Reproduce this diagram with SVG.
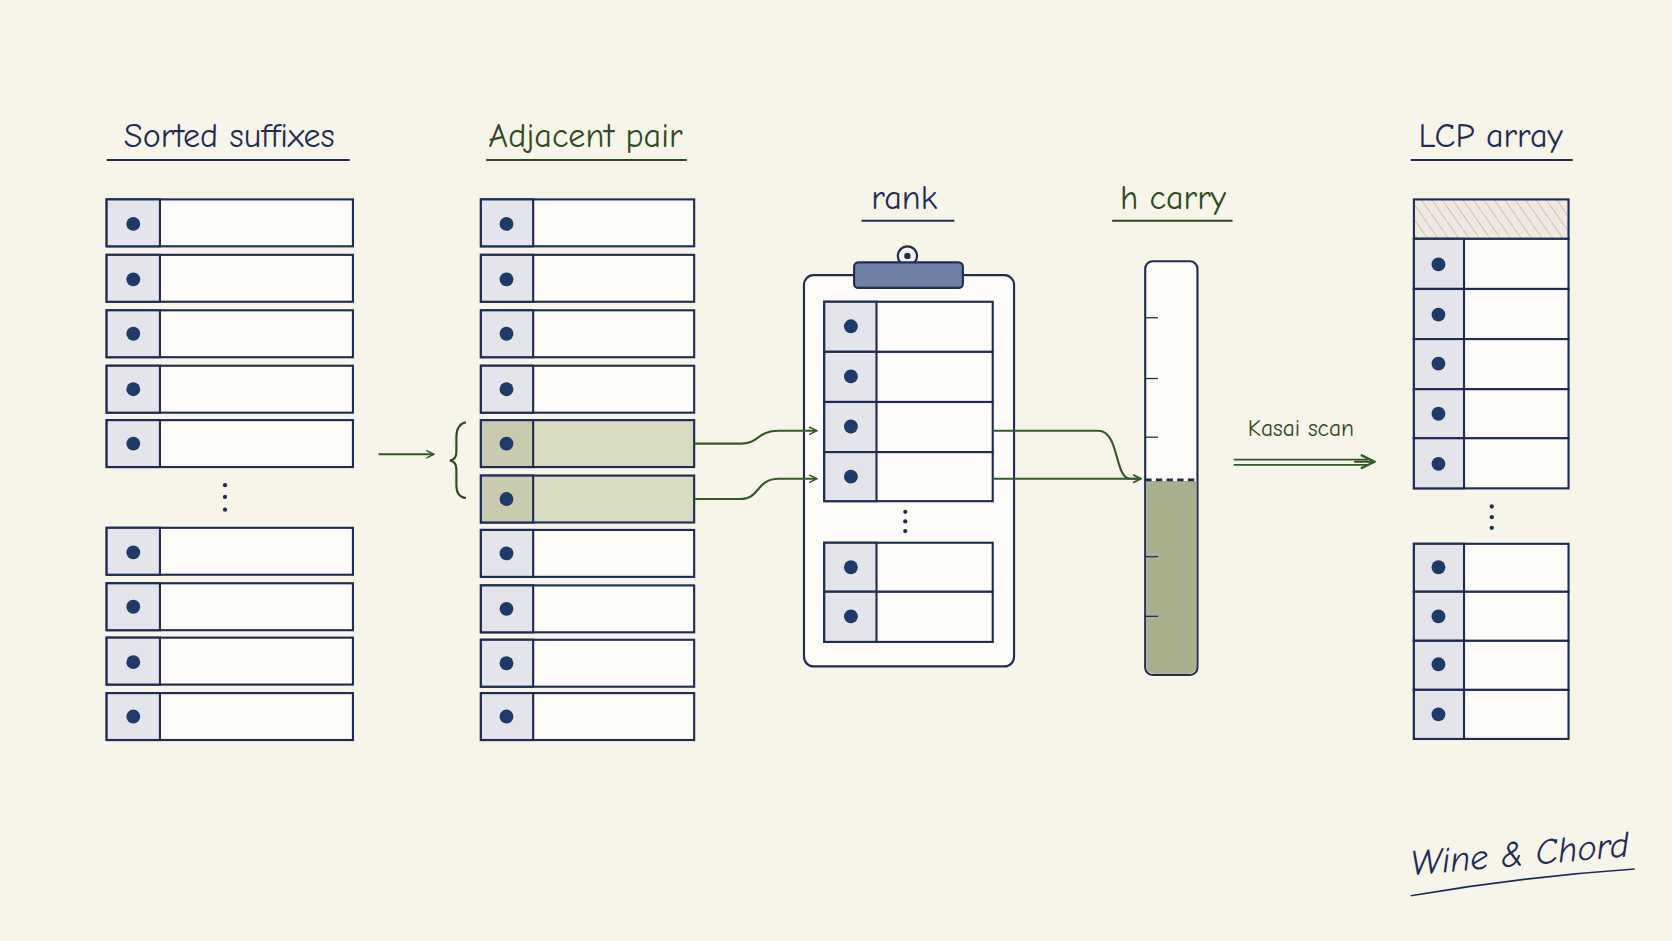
<svg xmlns="http://www.w3.org/2000/svg" width="1672" height="941" viewBox="0 0 1672 941">
<defs>
<style>
.row{fill:#fdfcf8;stroke:#1f2d55;stroke-width:2}
.cell{fill:#e3e5ea;stroke:#1f2d55;stroke-width:2}
.hl{fill:#d9dac2;stroke:#1f2d55;stroke-width:2}
.dot{fill:#1f3a68}
.t{font-family:"Comic Neue","DejaVu Sans",sans-serif;font-size:32px;text-anchor:middle}
.nv{fill:#1f2d55}.gr{fill:#2f4a1f}
.ul{stroke-width:2;fill:none}
.con{stroke:#355a2a;stroke-width:2;fill:none;marker-end:url(#ah)}
</style>
<marker id="ah" viewBox="0 0 10 10" refX="9" refY="5" markerWidth="9" markerHeight="9" orient="auto" markerUnits="userSpaceOnUse"><path d="M1 1L9 5L1 9" fill="none" stroke="#355a2a" stroke-width="1.6"/></marker>
<marker id="ah2" viewBox="0 0 10 10" refX="9" refY="5" markerWidth="16" markerHeight="16" orient="auto" markerUnits="userSpaceOnUse"><path d="M1 1L9 5L1 9" fill="none" stroke="#355a2a" stroke-width="1.4"/></marker>
<pattern id="hatch" width="8" height="8" patternUnits="userSpaceOnUse" patternTransform="rotate(-35)"><rect width="8" height="8" fill="#efe9e2"/><line x1="0" y1="0" x2="0" y2="8" stroke="#c9b9b0" stroke-width="1.5"/></pattern>
</defs>
<rect width="1672" height="941" fill="#f7f4ea"/>
<g transform="scale(1.0663)">
<g id="title-sorted"><text class="t nv" x="215" y="138">Sorted suffixes</text><line class="ul" stroke="#1f2d55" x1="100" y1="150" x2="328" y2="150"/></g>
<g id="title-pair"><text class="t gr" x="549" y="138">Adjacent pair</text><line class="ul" stroke="#2f4a1f" x1="456" y1="150" x2="644" y2="150"/></g>
<g id="title-rank"><text class="t nv" x="848" y="196">rank</text><line class="ul" stroke="#1f2d55" x1="808" y1="207" x2="895" y2="207"/></g>
<g id="title-h"><text class="t gr" x="1100" y="196">h carry</text><line class="ul" stroke="#2f4a1f" x1="1043" y1="207" x2="1156" y2="207"/></g>
<g id="title-lcp"><text class="t nv" x="1398" y="138">LCP array</text><line class="ul" stroke="#1f2d55" x1="1323" y1="150" x2="1475" y2="150"/></g>

<g id="sorted">
<rect class="row" x="100" y="187" width="231" height="44"/><rect class="cell" x="100" y="187" width="50" height="44"/><circle class="dot" cx="125" cy="210" r="6.5"/>
<rect class="row" x="100" y="239" width="231" height="44"/><rect class="cell" x="100" y="239" width="50" height="44"/><circle class="dot" cx="125" cy="262" r="6.5"/>
<rect class="row" x="100" y="291" width="231" height="44"/><rect class="cell" x="100" y="291" width="50" height="44"/><circle class="dot" cx="125" cy="313" r="6.5"/>
<rect class="row" x="100" y="343" width="231" height="44"/><rect class="cell" x="100" y="343" width="50" height="44"/><circle class="dot" cx="125" cy="365" r="6.5"/>
<rect class="row" x="100" y="394" width="231" height="44"/><rect class="cell" x="100" y="394" width="50" height="44"/><circle class="dot" cx="125" cy="416" r="6.5"/>
<rect class="row" x="100" y="495" width="231" height="44"/><rect class="cell" x="100" y="495" width="50" height="44"/><circle class="dot" cx="125" cy="518" r="6.5"/>
<rect class="row" x="100" y="547" width="231" height="44"/><rect class="cell" x="100" y="547" width="50" height="44"/><circle class="dot" cx="125" cy="569" r="6.5"/>
<rect class="row" x="100" y="598" width="231" height="44"/><rect class="cell" x="100" y="598" width="50" height="44"/><circle class="dot" cx="125" cy="621" r="6.5"/>
<rect class="row" x="100" y="650" width="231" height="44"/><rect class="cell" x="100" y="650" width="50" height="44"/><circle class="dot" cx="125" cy="672" r="6.5"/>
<circle class="nv" cx="211" cy="455" r="2"/><circle class="nv" cx="211" cy="466" r="2"/><circle class="nv" cx="211" cy="478" r="2"/>
</g>

<g id="pair">
<rect class="row" x="451" y="187" width="200" height="44"/><rect class="cell" x="451" y="187" width="49" height="44"/><circle class="dot" cx="475" cy="210" r="6.5"/>
<rect class="row" x="451" y="239" width="200" height="44"/><rect class="cell" x="451" y="239" width="49" height="44"/><circle class="dot" cx="475" cy="262" r="6.5"/>
<rect class="row" x="451" y="291" width="200" height="44"/><rect class="cell" x="451" y="291" width="49" height="44"/><circle class="dot" cx="475" cy="313" r="6.5"/>
<rect class="row" x="451" y="343" width="200" height="44"/><rect class="cell" x="451" y="343" width="49" height="44"/><circle class="dot" cx="475" cy="365" r="6.5"/>
<rect class="hl" x="451" y="394" width="200" height="44"/><rect class="hl" x="451" y="394" width="49" height="44" style="fill:#c9cbb0"/><circle class="dot" cx="475" cy="416" r="6.5"/>
<rect class="hl" x="451" y="446" width="200" height="44"/><rect class="hl" x="451" y="446" width="49" height="44" style="fill:#c9cbb0"/><circle class="dot" cx="475" cy="468" r="6.5"/>
<rect class="row" x="451" y="497" width="200" height="44"/><rect class="cell" x="451" y="497" width="49" height="44"/><circle class="dot" cx="475" cy="519" r="6.5"/>
<rect class="row" x="451" y="549" width="200" height="44"/><rect class="cell" x="451" y="549" width="49" height="44"/><circle class="dot" cx="475" cy="571" r="6.5"/>
<rect class="row" x="451" y="600" width="200" height="44"/><rect class="cell" x="451" y="600" width="49" height="44"/><circle class="dot" cx="475" cy="622" r="6.5"/>
<rect class="row" x="451" y="650" width="200" height="44"/><rect class="cell" x="451" y="650" width="49" height="44"/><circle class="dot" cx="475" cy="672" r="6.5"/>
<path d="M437 396 Q428 398 428 410 L428 424 Q428 431 422 432 Q428 433 428 440 L428 455 Q428 466 437 467" fill="none" stroke="#2f4a1f" stroke-width="2"/>
</g>

<g id="rank">
<rect x="754" y="258" width="197" height="367" rx="9" fill="#fdfcf8" stroke="#1f2d55" stroke-width="2"/>
<circle cx="851" cy="240" r="9" fill="#f7f4ea" stroke="#1f2d55" stroke-width="2"/>
<circle cx="851" cy="240" r="3" fill="#1f2d55"/>
<rect x="801" y="246" width="102" height="24" rx="4" fill="#6f7fa5" stroke="#1f2d55" stroke-width="2"/>
<rect class="row" x="773" y="283" width="158" height="47"/><rect class="cell" x="773" y="283" width="49" height="47"/><circle class="dot" cx="798" cy="306" r="6.5"/>
<rect class="row" x="773" y="330" width="158" height="47"/><rect class="cell" x="773" y="330" width="49" height="47"/><circle class="dot" cx="798" cy="353" r="6.5"/>
<rect class="row" x="773" y="377" width="158" height="47"/><rect class="cell" x="773" y="377" width="49" height="47"/><circle class="dot" cx="798" cy="400" r="6.5"/>
<rect class="row" x="773" y="424" width="158" height="46"/><rect class="cell" x="773" y="424" width="49" height="46"/><circle class="dot" cx="798" cy="447" r="6.5"/>
<rect class="row" x="773" y="509" width="158" height="46"/><rect class="cell" x="773" y="509" width="49" height="46"/><circle class="dot" cx="798" cy="532" r="6.5"/>
<rect class="row" x="773" y="555" width="158" height="47"/><rect class="cell" x="773" y="555" width="49" height="47"/><circle class="dot" cx="798" cy="578" r="6.5"/>
<circle class="nv" cx="849" cy="480" r="2"/><circle class="nv" cx="849" cy="489" r="2"/><circle class="nv" cx="849" cy="498" r="2"/>
</g>

<g id="hcarry">
<rect x="1074" y="245" width="49" height="388" rx="7" fill="#fdfcf8" stroke="#1f2d55" stroke-width="2"/>
<path d="M1075 451 H1122 V624 Q1122 632 1114 632 H1083 Q1075 632 1075 624 Z" fill="#a9b08e"/>
<line x1="1074" y1="450" x2="1123" y2="450" stroke="#1f2d55" stroke-width="2.5" stroke-dasharray="6 4"/>
<g stroke="#1f2d55" stroke-width="1.2"><line x1="1074" y1="298" x2="1086" y2="298"/><line x1="1074" y1="355" x2="1086" y2="355"/><line x1="1074" y1="410" x2="1086" y2="410"/><line x1="1074" y1="522" x2="1086" y2="522"/><line x1="1074" y1="578" x2="1086" y2="578"/></g>
</g>

<g id="lcp">
<rect x="1326" y="187" width="145" height="37" fill="url(#hatch)" stroke="#1f2d55" stroke-width="2"/>
<rect class="row" x="1326" y="224" width="145" height="47"/><rect class="cell" x="1326" y="224" width="47" height="47"/><circle class="dot" cx="1349" cy="248" r="6.5"/>
<rect class="row" x="1326" y="271" width="145" height="47"/><rect class="cell" x="1326" y="271" width="47" height="47"/><circle class="dot" cx="1349" cy="295" r="6.5"/>
<rect class="row" x="1326" y="318" width="145" height="47"/><rect class="cell" x="1326" y="318" width="47" height="47"/><circle class="dot" cx="1349" cy="341" r="6.5"/>
<rect class="row" x="1326" y="365" width="145" height="46"/><rect class="cell" x="1326" y="365" width="47" height="46"/><circle class="dot" cx="1349" cy="388" r="6.5"/>
<rect class="row" x="1326" y="411" width="145" height="47"/><rect class="cell" x="1326" y="411" width="47" height="47"/><circle class="dot" cx="1349" cy="435" r="6.5"/>
<rect class="row" x="1326" y="510" width="145" height="45"/><rect class="cell" x="1326" y="510" width="47" height="45"/><circle class="dot" cx="1349" cy="532" r="6.5"/>
<rect class="row" x="1326" y="555" width="145" height="46"/><rect class="cell" x="1326" y="555" width="47" height="46"/><circle class="dot" cx="1349" cy="578" r="6.5"/>
<rect class="row" x="1326" y="601" width="145" height="46"/><rect class="cell" x="1326" y="601" width="47" height="46"/><circle class="dot" cx="1349" cy="623" r="6.5"/>
<rect class="row" x="1326" y="647" width="145" height="46"/><rect class="cell" x="1326" y="647" width="47" height="46"/><circle class="dot" cx="1349" cy="670" r="6.5"/>
<circle class="nv" cx="1399" cy="475" r="2"/><circle class="nv" cx="1399" cy="485" r="2"/><circle class="nv" cx="1399" cy="495" r="2"/>
</g>

<g id="connectors">
<line class="con" x1="355" y1="426" x2="407" y2="426"/>
<path class="con" d="M651 416 H695 C712 416 710 404 730 404 H766"/>
<path class="con" d="M651 468 H695 C712 468 710 449 730 449 H766"/>
<path class="con" d="M931 404 H1030 C1050 404 1045 449 1060 449 H1070"/>
<line class="con" x1="931" y1="449" x2="1070" y2="449"/>
<line x1="1157" y1="431" x2="1283" y2="431" stroke="#355a2a" stroke-width="1.5"/>
<line x1="1157" y1="436" x2="1283" y2="436" stroke="#355a2a" stroke-width="1.5"/>
<line x1="1270" y1="433" x2="1289" y2="433" stroke="#355a2a" stroke-width="2" marker-end="url(#ah2)"/>
<text class="t gr" x="1220" y="409" style="font-size:22px">Kasai scan</text>
</g>

<g id="signature">
<text class="t nv" x="1425" y="812" style="font-size:34px;font-style:italic" transform="rotate(-5 1425 800)">Wine &amp; Chord</text>
<path d="M1323 840 Q1430 822 1533 815" fill="none" stroke="#1f2d55" stroke-width="1.5"/>
</g>
</g>
</svg>
